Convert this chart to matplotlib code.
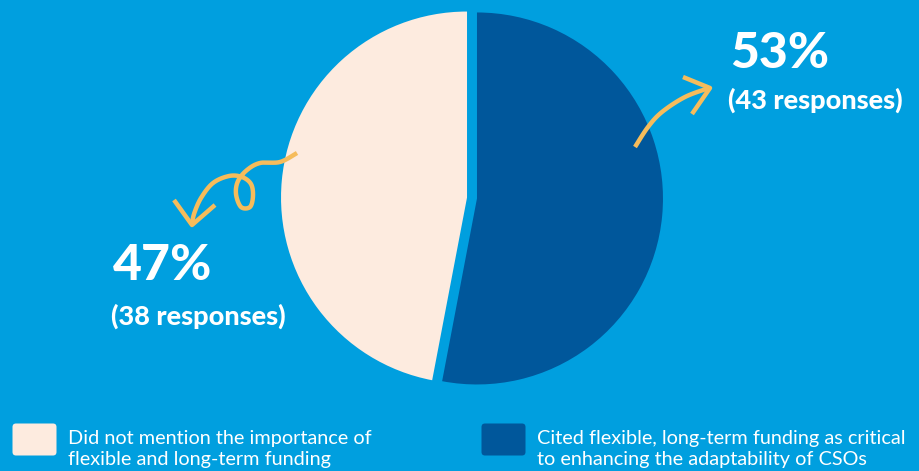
import numpy as np
import matplotlib.pyplot as plt
from matplotlib.patches import FancyBboxPatch

####
# Data
#===
labels = ['Did not mention the importance of\nflexible and long-term funding',
          'Cited flexible, long-term funding as critical\nto enhancing the adaptability of CSOs']
shares = [47, 53]
responses = [38, 43]
colors = ['#FDEBDF', '#00579B']

bg = '#009FDF'
arrow_col = '#F6BC5B'
H = 471


def smooth(pts, n=20):
    # Catmull-Rom through the given pixel points
    pts = np.array(pts, dtype=float)
    p = np.vstack([pts[0], pts, pts[-1]])
    out = []
    for i in range(1, len(p) - 2):
        t = np.linspace(0, 1, n)[:, None]
        p0, p1, p2, p3 = p[i - 1], p[i], p[i + 1], p[i + 2]
        out.append(0.5 * ((2 * p1) + (-p0 + p2) * t + (2 * p0 - 5 * p1 + 4 * p2 - p3) * t ** 2
                          + (-p0 + 3 * p1 - 3 * p2 + p3) * t ** 3))
    return np.vstack(out)


def draw_line(ax, pts, **kw):
    pts = np.array(pts, dtype=float)
    ax.plot(pts[:, 0], H - pts[:, 1], **kw)


####
# Figure
#===
fig = plt.figure(figsize=(9.19, 4.71), dpi=100, facecolor=bg)
ax = fig.add_axes([0, 0, 1, 1])
ax.set_facecolor(bg)

# explode is in data units (pixels here)
ax.pie(shares, colors=colors, startangle=90, counterclock=True,
       center=(472, H - 198), radius=186, explode=[5, 5],
       wedgeprops=dict(linewidth=0), frame=True)
ax.set_xlim(0, 919)
ax.set_ylim(0, H)
ax.set_aspect('equal')
ax.axis('off')

# percentage labels
tf = dict(color='white', fontweight='black', family=['Lato', 'DejaVu Sans'])
ax.text(730, H - 53, '{}%'.format(shares[1]), fontsize=36, va='center', ha='left', **tf)
ax.text(728, H - 100, '({} responses)'.format(responses[1]), fontsize=19.5, va='center', ha='left', **tf)
ax.text(113, H - 266, '{}%'.format(shares[0]), fontsize=36, va='center', ha='left', **tf)
ax.text(111, H - 316, '({} responses)'.format(responses[0]), fontsize=19.5, va='center', ha='left', **tf)

# arrows
akw = dict(color=arrow_col, lw=3.2, solid_capstyle='butt', solid_joinstyle='round')
right = smooth([(635, 147), (648, 127), (662, 112), (685, 97), (709, 88)])
draw_line(ax, right, **akw)
draw_line(ax, [(683, 77), (710, 88), (692, 114)], **akw)

left = smooth([(297, 153), (280, 162), (260, 163), (247, 170), (238, 181), (236, 194),
               (241, 207), (250, 207), (253, 196), (251, 184), (242, 177), (229, 176),
               (213, 183), (201, 198), (194, 214), (192, 225)])
draw_line(ax, left, **akw)
draw_line(ax, [(174, 200), (192, 225), (215, 205)], **akw)

# legend
lf = dict(color='white', fontsize=14.3, va='center', ha='left', linespacing=1.3,
          family=['Lato', 'DejaVu Sans'])
for x0, col, lab, tx in [(12, colors[0], labels[0], 68), (481, colors[1], labels[1], 537)]:
    box = FancyBboxPatch((x0 + 4, H - 452), 37, 25, boxstyle='round,pad=3.5',
                         fc=col, ec='none')
    ax.add_patch(box)
    ax.text(tx, H - 449, lab, **lf)

fig.savefig('out.png', dpi=100, facecolor=bg)
